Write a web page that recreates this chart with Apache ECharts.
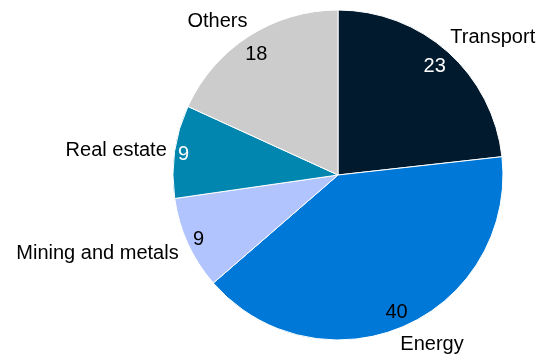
<!DOCTYPE html>
<html><head><meta charset="utf-8">
<script src="https://cdn.jsdelivr.net/npm/echarts@6/dist/echarts.min.js"></script>
<style>html,body{margin:0;padding:0;background:#fff}#c{width:544px;height:358px}</style>
</head><body><div id="c"></div>
<script>
const categories = ['Transport', 'Energy', 'Mining and metals', 'Real estate', 'Others'];
const values = [23, 40, 9, 9, 18];
const colors = ['#011a2e', '#0078d7', '#b1c4fe', '#0186b0', '#cccccc'];
const numberColors = ['#ffffff', '#000000', '#000000', '#ffffff', '#000000'];

// small label nudges (layout only)
const nameNudge = [[-3, -9], [-7, 11], [-2, 7], [0, 0], [3, -8]];
const numNudge = [[-4, 4], [-2, -1], [-2, 2], [-5, 1], [0, 7]];

const chart = echarts.init(document.getElementById('c'));
const font = 'Liberation Sans, Arial, sans-serif';
chart.setOption({
  animation: false,
  series: [
    {
      type: 'pie',
      center: [338, 175],
      radius: [0, 165],
      startAngle: 90,
      clockwise: true,
      avoidLabelOverlap: false,
      itemStyle: { borderColor: '#ffffff', borderWidth: 1 },
      label: {
        show: true, position: 'outside', formatter: '{b}',
        color: '#000', fontSize: 20, fontFamily: font, distanceToLabelLine: 0
      },
      labelLine: { show: false, length: 8, length2: 0 },
      labelLayout: p => ({ dx: nameNudge[p.dataIndex][0], dy: nameNudge[p.dataIndex][1] }),
      emphasis: { disabled: true },
      data: categories.map((c, i) => ({ name: c, value: values[i], itemStyle: { color: colors[i] } }))
    },
    {
      type: 'pie',
      center: [338, 175],
      radius: [131, 165],
      startAngle: 90,
      clockwise: true,
      silent: true,
      itemStyle: { color: 'transparent', borderWidth: 0 },
      label: { show: true, position: 'inside', formatter: '{c}', fontSize: 20, fontFamily: font },
      labelLine: { show: false },
      labelLayout: p => ({ dx: numNudge[p.dataIndex][0], dy: numNudge[p.dataIndex][1] }),
      data: categories.map((c, i) => ({ name: c, value: values[i], label: { color: numberColors[i] } }))
    }
  ]
});
</script></body></html>
